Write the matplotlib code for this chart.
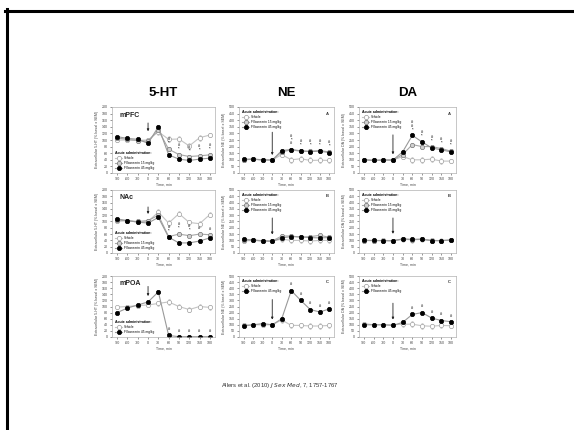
import matplotlib
matplotlib.use("Agg")
import matplotlib.pyplot as plt
from matplotlib.lines import Line2D

plt.rcParams['font.family'] = ['Liberation Sans', 'DejaVu Sans']

W, H = 574, 430

time_min = [-90, -60, -30, 0, 30, 60, 90, 120, 150, 180]
time_labels = ['-90', '-60', '-30', '0', '30', '60', '90', '120', '150', '180']

# 5-HT, % basal
ht_mpfc_veh = [100, 100, 99, 100, 125, 102, 103, 82, 107, 115]
ht_mpfc_f15 = [106, 102, 98, 96, 130, 72, 56, 50, 52, 55]
ht_mpfc_f45 = [110, 105, 102, 90, 140, 55, 42, 38, 42, 45]
ht_nac_veh = [100, 103, 98, 100, 130, 95, 125, 97, 93, 122]
ht_nac_f15 = [105, 102, 100, 103, 120, 52, 60, 55, 60, 58]
ht_nac_f45 = [108, 103, 98, 95, 113, 50, 32, 32, 38, 48]
ht_mpoa_veh = [98, 100, 103, 105, 110, 115, 100, 90, 100, 97]
ht_mpoa_f45 = [80, 95, 105, 115, 148, 5, 1, 1, 1, 1]

# NE, % basal
ne_mpfc_veh = [100, 105, 100, 98, 140, 100, 108, 95, 97, 95]
ne_mpfc_f15 = [100, 104, 98, 98, 160, 175, 165, 165, 170, 160]
ne_mpfc_f45 = [105, 105, 100, 98, 170, 178, 168, 162, 165, 155]
ne_nac_veh = [95, 100, 95, 95, 110, 100, 100, 95, 100, 100]
ne_nac_f15 = [100, 103, 98, 95, 135, 135, 125, 130, 140, 125]
ne_nac_f45 = [110, 103, 95, 92, 120, 130, 128, 122, 120, 122]
ne_mpoa_veh = [100, 100, 100, 100, 140, 95, 95, 90, 90, 95]
ne_mpoa_f45 = [90, 100, 110, 100, 150, 380, 300, 225, 205, 230]

# DA, % basal
da_mpfc_veh = [100, 95, 98, 98, 125, 100, 100, 105, 90, 90]
da_mpfc_f15 = [100, 96, 98, 98, 140, 215, 200, 200, 185, 165]
da_mpfc_f45 = [100, 95, 98, 98, 160, 285, 235, 190, 175, 160]
da_nac_veh = [100, 98, 100, 98, 108, 105, 108, 100, 98, 104]
da_nac_f15 = [99, 99, 98, 97, 110, 106, 109, 99, 99, 103]
da_nac_f45 = [100, 100, 98, 97, 112, 108, 110, 98, 98, 102]
da_mpoa_veh = [110, 100, 100, 100, 105, 105, 92, 88, 95, 92]
da_mpoa_f45 = [100, 100, 100, 95, 120, 185, 200, 155, 135, 125]

sem_small = [6, 5, 5, 5, 8, 10, 9, 9, 9, 9]
sem_big = [8, 7, 7, 8, 15, 15, 15, 15, 15, 12]

veh_style = dict(color='#c4c4c4', marker='o', mfc='white', mec='#a0a0a0')
f15_style = dict(color='#a8a8a8', marker='o', mfc='#d0d0d0', mec='#787878')
f45_style = dict(color='#999999', marker='o', mfc='black', mec='black')

fs = 2.6


def px_axes(x0, y0, x1, y1):
    return fig.add_axes([x0 / W, 1 - y1 / H, (x1 - x0) / W, (y1 - y0) / H])


def draw_panel(ax, series, ymax, ystep, ylabel, tag, tag_big, legend_loc,
               arrow, sig):
    for vals, label, style in series:
        sem = sem_big if style is veh_style else sem_small
        ax.errorbar(time_min, vals, yerr=[s * ymax / 200 * 0.6 for s in sem],
                    lw=0.8, ms=3.1, mew=0.5, elinewidth=0.4, capsize=0.8,
                    capthick=0.4, ecolor=style['color'], label=label,
                    **style)
    ax.set_xlim(-105, 195)
    ax.set_ylim(0, ymax)
    ax.set_xticks(time_min)
    ax.set_xticklabels(time_labels)
    ax.set_yticks(range(0, ymax + 1, ystep))
    ax.tick_params(labelsize=fs, length=1.2, width=0.4, pad=1.5,
                   colors='#444444')
    for sp in ax.spines.values():
        sp.set_linewidth(0.5)
        sp.set_color('#b0b0b0')
    ax.set_xlabel('Time, min', fontsize=fs, labelpad=1.5, color='#444444')
    ax.set_ylabel(ylabel, fontsize=fs, labelpad=2, color='#444444')
    if tag_big:
        ax.text(0.07, 0.85, tag, transform=ax.transAxes, fontsize=5,
                fontweight='bold', color='#222222')
    else:
        ax.text(0.95, 0.93, tag, transform=ax.transAxes, fontsize=3,
                fontweight='bold', ha='right', va='top', color='#333333')
    leg = ax.legend(loc=legend_loc, fontsize=2.3, frameon=False,
                    title='Acute administration:', handlelength=2.2,
                    borderaxespad=0.6, labelspacing=0.3, handletextpad=0.5,
                    alignment='left')
    leg.get_title().set_fontsize(2.5)
    leg.get_title().set_fontweight('bold')
    ax.annotate('', xy=(0, arrow[1]), xytext=(0, arrow[0]),
                arrowprops=dict(arrowstyle='-|>', lw=0.6, color='#222222',
                                mutation_scale=3))
    drug_vals = [s[0] for s in series[1:]]
    for i, mark in sig:
        top = max(v[i] for v in drug_vals)
        ax.annotate(mark, xy=(time_min[i], top), xytext=(0, 3),
                    textcoords='offset points', ha='center', va='bottom',
                    fontsize=2.9, fontweight='bold', linespacing=0.9,
                    color='#333333')


fig = plt.figure(figsize=(W / 100, H / 100), dpi=100)

# slide frame
fig.add_artist(Line2D([5 / W, 1], [1 - 10.5 / H, 1 - 10.5 / H], lw=2.2,
                      color='black', transform=fig.transFigure))
fig.add_artist(Line2D([6.5 / W, 6.5 / W], [0, 1 - 9 / H], lw=2.2,
                      color='black', transform=fig.transFigure))

cols = [(112, 215), (239, 334), (359, 456)]
rows = [(107, 173), (190, 253), (276, 337)]

for (x0, x1), title in zip(cols, ['5-HT', 'NE', 'DA']):
    fig.text((x0 + x1) / 2 / W, 1 - 93 / H, title, ha='center', va='center',
             fontsize=9.5, fontweight='bold')

ht_label = 'Extracellular 5-HT (% basal \u00b1 SEM)'
ne_label = 'Extracellular NE (% basal \u00b1 SEM)'
da_label = 'Extracellular DA (% basal \u00b1 SEM)'
veh = 'Vehicle'
f15 = 'Flibanserin 15 mg/kg'
f45 = 'Flibanserin 45 mg/kg'

# 5-HT column
ax = px_axes(cols[0][0], rows[0][0], cols[0][1], rows[0][1])
draw_panel(ax, [(ht_mpfc_veh, veh, veh_style), (ht_mpfc_f15, f15, f15_style),
                (ht_mpfc_f45, f45, f45_style)],
           200, 20, ht_label, 'mPFC', True, 'lower left', (160, 118),
           [(5, '#\n*'), (6, '#\n*'), (7, '#\n*'), (8, '#\n*'), (9, '#\n*')])
ax = px_axes(cols[0][0], rows[1][0], cols[0][1], rows[1][1])
draw_panel(ax, [(ht_nac_veh, veh, veh_style), (ht_nac_f15, f15, f15_style),
                (ht_nac_f45, f45, f45_style)],
           200, 20, ht_label, 'NAc', True, 'lower left', (155, 115),
           [(5, '#\n*'), (6, '#\n*'), (7, '#\n*'), (8, '#'), (9, '#')])
ax = px_axes(cols[0][0], rows[2][0], cols[0][1], rows[2][1])
draw_panel(ax, [(ht_mpoa_veh, veh, veh_style), (ht_mpoa_f45, f45, f45_style)],
           200, 20, ht_label, 'mPOA', True, 'lower left', (175, 125),
           [(5, '#'), (6, '#'), (7, '#'), (8, '#'), (9, '#')])

# NE column
ax = px_axes(cols[1][0], rows[0][0], cols[1][1], rows[0][1])
draw_panel(ax, [(ne_mpfc_veh, veh, veh_style), (ne_mpfc_f15, f15, f15_style),
                (ne_mpfc_f45, f45, f45_style)],
           500, 50, ne_label, 'A', False, 'upper left', (330, 115),
           [(5, '#\n*\n#'), (6, '#\n*'), (7, '#\n*'), (8, '#\n*'),
            (9, '#\n*')])
ax = px_axes(cols[1][0], rows[1][0], cols[1][1], rows[1][1])
draw_panel(ax, [(ne_nac_veh, veh, veh_style), (ne_nac_f15, f15, f15_style),
                (ne_nac_f45, f45, f45_style)],
           500, 50, ne_label, 'B', False, 'upper left', (300, 125), [])
ax = px_axes(cols[1][0], rows[2][0], cols[1][1], rows[2][1])
draw_panel(ax, [(ne_mpoa_veh, veh, veh_style), (ne_mpoa_f45, f45, f45_style)],
           500, 50, ne_label, 'C', False, 'upper left', (330, 120),
           [(5, '#'), (6, '#'), (7, '#'), (8, '#'), (9, '#')])

# DA column
ax = px_axes(cols[2][0], rows[0][0], cols[2][1], rows[0][1])
draw_panel(ax, [(da_mpfc_veh, veh, veh_style), (da_mpfc_f15, f15, f15_style),
                (da_mpfc_f45, f45, f45_style)],
           500, 50, da_label, 'A', False, 'upper left', (310, 120),
           [(5, '#\n#\n*'), (6, '#\n*'), (7, '#\n*'), (8, '#\n*'),
            (9, '#\n*')])
ax = px_axes(cols[2][0], rows[1][0], cols[2][1], rows[1][1])
draw_panel(ax, [(da_nac_veh, veh, veh_style), (da_nac_f15, f15, f15_style),
                (da_nac_f45, f45, f45_style)],
           500, 50, da_label, 'B', False, 'upper left', (300, 130), [])
ax = px_axes(cols[2][0], rows[2][0], cols[2][1], rows[2][1])
draw_panel(ax, [(da_mpoa_veh, veh, veh_style), (da_mpoa_f45, f45, f45_style)],
           500, 50, da_label, 'C', False, 'upper left', (300, 120),
           [(5, '#'), (6, '#'), (7, '#'), (8, '#'), (9, '#')])

fig.text(280 / W, 1 - 386 / H,
         'Allers et al. (2010) $\\it{J\\ Sex\\ Med}$, 7, 1757-1767',
         ha='center', va='center', fontsize=4.2, color='#333333')

fig.savefig('out.png', dpi=100)
